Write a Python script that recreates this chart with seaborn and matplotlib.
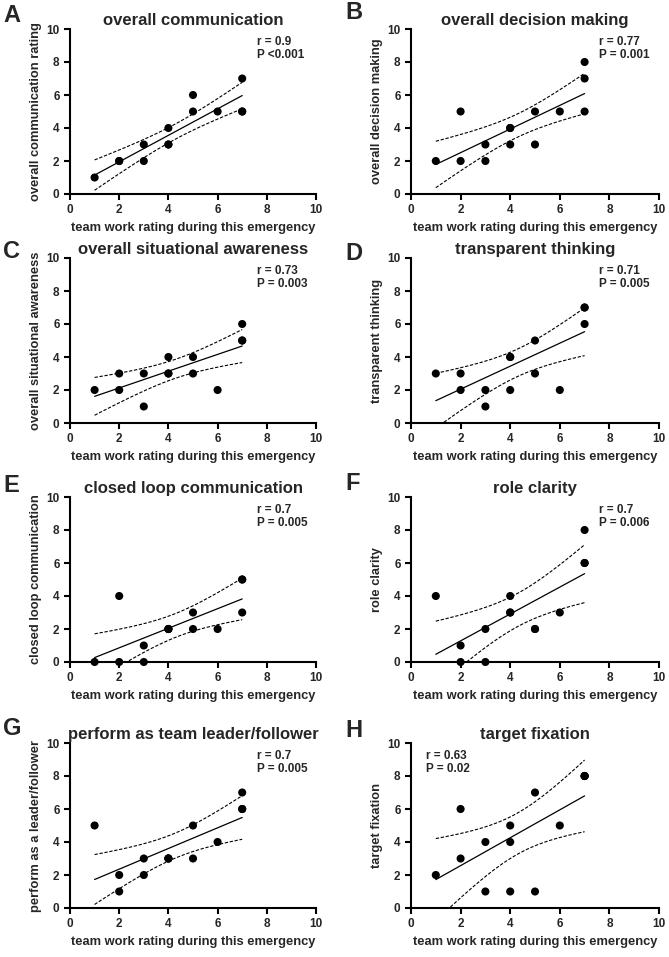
import numpy as np
import pandas as pd
import matplotlib.pyplot as plt
import seaborn as sns

# team work rating (same 14 participants in every panel)
teamwork = [1, 2, 2, 3, 3, 4, 4, 4, 5, 5, 6, 7, 7, 7]

communication = [1, 2, 2, 3, 2, 4, 3, 3, 6, 5, 5, 7, 5, 5]
decision_making = [2, 5, 2, 3, 2, 4, 3, 4, 5, 3, 5, 8, 7, 5]
situational_awareness = [2, 3, 2, 3, 1, 4, 3, 3, 4, 3, 2, 6, 5, 5]
transparent_thinking = [3, 3, 2, 2, 1, 4, 2, 4, 5, 3, 2, 7, 6, 7]
closed_loop = [0, 4, 0, 1, 0, 2, 2, 2, 3, 2, 2, 5, 3, 5]
role_clarity = [4, 1, 0, 2, 0, 4, 3, 3, 2, 2, 3, 8, 6, 6]
leader_follower = [5, 2, 1, 3, 2, 3, 3, 3, 5, 3, 4, 7, 6, 6]
target_fixation = [2, 6, 3, 4, 1, 5, 4, 1, 7, 1, 5, 8, 8, 8]

series = [communication, decision_making, situational_awareness, transparent_thinking,
          closed_loop, role_clarity, leader_follower, target_fixation]
letters = ["A", "B", "C", "D", "E", "F", "G", "H"]
titles = ["overall communication", "overall decision making", "overall situational awareness",
          "transparent thinking", "closed loop communication", "role clarity",
          "perform as team leader/follower", "target fixation"]
ylabels = ["overall communication rating", "overall decision making", "overall situational awareness",
           "transparent thinking", "closed loop communication", "role clarity",
           "perform as a leader/follower", "target fixation"]
r_labels = ["r = 0.9", "r = 0.77", "r = 0.73", "r = 0.71", "r = 0.7", "r = 0.7", "r = 0.7", "r = 0.63"]
p_labels = ["P <0.001", "P = 0.001", "P = 0.003", "P = 0.005", "P = 0.005", "P = 0.006", "P = 0.005", "P = 0.02"]
xlabel = "team work rating during this emergency"
ticks = [0, 2, 4, 6, 8, 10]

sns.set_theme(style="ticks")
plt.rcParams['font.family'] = ['Liberation Sans', 'DejaVu Sans']
plt.rcParams['font.weight'] = 'bold'
plt.rcParams['axes.labelweight'] = 'bold'
plt.rcParams['axes.titleweight'] = 'bold'

W, H = 669, 957
fig = plt.figure(figsize=(W / 100, H / 100), dpi=100)

col_left = [70, 411]
col_width = [246, 248]
row_top = [29, 258, 497, 743]
ax_h = 165
# baseline of the panel letters, in pixels from the top
letter_base = [22, 19, 258, 260, 492, 490, 735, 737]
T_CRIT = 2.179  # t(0.975, df=12)

for i, ys in enumerate(series):
    row, col = divmod(i, 2)
    left, top = col_left[col], row_top[row]
    ax = fig.add_axes([left / W, (H - top - ax_h) / H, col_width[col] / W, ax_h / H])

    df = pd.DataFrame({"x": teamwork, "y": ys})
    x = df["x"].to_numpy(float)
    y = df["y"].to_numpy(float)
    n = len(x)
    slope, icpt = np.polyfit(x, y, 1)
    xs = np.linspace(x.min(), x.max(), 100)
    fit = icpt + slope * xs
    s = np.sqrt(np.sum((y - (icpt + slope * x)) ** 2) / (n - 2))
    sxx = np.sum((x - x.mean()) ** 2)
    band = T_CRIT * s * np.sqrt(1 / n + (xs - x.mean()) ** 2 / sxx)

    ax.plot(xs, fit, color="black", lw=0.9)
    ax.plot(xs, fit + band, color="black", lw=0.8, ls=(0, (3, 1.5)))
    ax.plot(xs, fit - band, color="black", lw=0.8, ls=(0, (3, 1.5)))
    sns.scatterplot(data=df, x="x", y="y", ax=ax, color="black", s=34,
                    edgecolor="none", clip_on=False, zorder=5)

    ax.set_xlim(0, 10)
    ax.set_ylim(0, 10)
    ax.set_xticks(ticks)
    ax.set_yticks(ticks)
    ax.tick_params(width=1.5, length=4, labelsize=8.5, pad=3.5, color="black")
    for lbl in ax.get_xticklabels() + ax.get_yticklabels():
        lbl.set_fontweight("bold")
    for sp in ["left", "bottom"]:
        ax.spines[sp].set_linewidth(1.5)
        ax.spines[sp].set_color("black")
    sns.despine(ax=ax)
    ax.set_xlabel(xlabel, fontsize=9.3, labelpad=4)
    ax.set_ylabel(ylabels[i], fontsize=9.3, labelpad=3)
    ax.set_title(titles[i], fontsize=12, pad=3)

    tx = 0.6 if i == 7 else 7.6
    ax.text(tx, 9.6, r_labels[i] + "\n" + p_labels[i], fontsize=8.5, fontweight="bold",
            va="top", ha="left", linespacing=1.15)

    fig.text((3 if col == 0 else 345) / W, 1 - letter_base[i] / H, letters[i],
             fontsize=17, fontweight="bold", va="baseline", ha="left")

fig.savefig("out.png", dpi=100)
